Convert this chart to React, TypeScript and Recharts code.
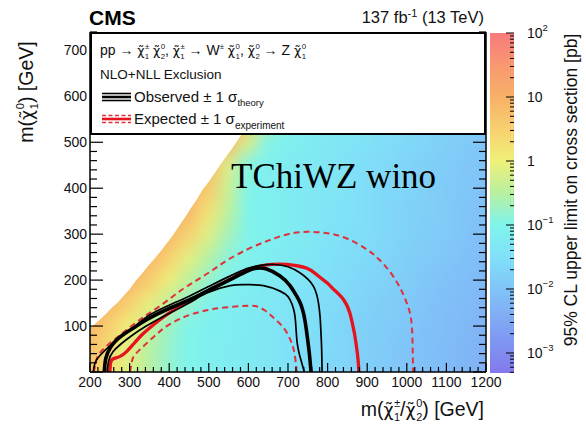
import React from 'react';
import { ComposedChart, XAxis, YAxis, Scatter, Area, Line, ReferenceArea } from 'recharts';

const SANS = '"Liberation Sans", Arial, Helvetica, sans-serif';
const SERIF = '"Liberation Serif", "Times New Roman", serif';
const GREEK = '"DejaVu Sans", sans-serif';

// mass-plane frame
const MARGIN = { top: 32, right: 80, bottom: 35, left: 50 };
const Y_AXIS_W = 40;
const R_AXIS_W = 20;
const X_AXIS_H = 20;
const PLOT_W = 586 - MARGIN.left - MARGIN.right - Y_AXIS_W - R_AXIS_W;
const PLOT_H = 427 - MARGIN.top - MARGIN.bottom - X_AXIS_H;
const X_MIN = 200;
const X_MAX = 1200;
const Y_MIN = 0;
const Y_MAX = 740;
const TM = 4;

const X_TICKS = Array.from({ length: 51 }, (_, i) => X_MIN + i * 20);
const Y_TICKS = Array.from({ length: 38 }, (_, i) => i * 20);

// 95% CL upper limit, log10(sigma / pb), on a 50 GeV grid
const HEAT_X = [200, 250, 300, 350, 400, 450, 500, 550, 600, 650, 700, 750, 800, 850, 900, 950, 1000, 1050, 1100, 1150, 1200];
const HEAT_Y = [0, 50, 100, 150, 200, 250, 300, 350, 400, 450, 500, 550];
const HEAT_LOG: (number | null)[][] = [
  [0.6, 0.25, -0.15, -0.5, -0.8, -1.0, -1.1, -1.2, -1.25, -1.35, -1.45, -1.55, -1.65, -1.7, -1.8, -1.9, -2.0, -2.1, -2.15, -2.25, -2.35],
  [0.75, 0.3, -0.15, -0.5, -0.8, -1.0, -1.1, -1.2, -1.25, -1.35, -1.45, -1.55, -1.6, -1.7, -1.8, -1.9, -2.0, -2.05, -2.15, -2.25, -2.3],
  [0.9, 0.5, 0.0, -0.4, -0.75, -1.0, -1.1, -1.15, -1.25, -1.35, -1.45, -1.5, -1.6, -1.7, -1.8, -1.85, -1.95, -2.05, -2.1, -2.2, -2.3],
  [0.9, 0.9, 0.5, -0.05, -0.45, -0.8, -1.05, -1.15, -1.2, -1.3, -1.4, -1.5, -1.55, -1.65, -1.75, -1.85, -1.9, -2.0, -2.1, -2.15, -2.25],
  [null, 0.9, 0.9, 0.6, 0.0, -0.45, -0.8, -1.05, -1.15, -1.25, -1.3, -1.4, -1.5, -1.6, -1.7, -1.75, -1.85, -1.95, -2.05, -2.1, -2.2],
  [null, null, 0.9, 0.9, 0.5, -0.1, -0.5, -0.9, -1.05, -1.15, -1.25, -1.35, -1.45, -1.55, -1.6, -1.7, -1.8, -1.9, -1.95, -2.05, -2.15],
  [null, null, null, 0.9, 0.9, 0.45, -0.15, -0.65, -1.0, -1.1, -1.2, -1.3, -1.4, -1.5, -1.55, -1.65, -1.75, -1.85, -1.9, -2.0, -2.1],
  [null, null, null, null, 0.9, 0.9, 0.2, -0.45, -1.0, -1.1, -1.2, -1.3, -1.4, -1.45, -1.55, -1.65, -1.75, -1.8, -1.9, -2.0, -2.05],
  [null, null, null, null, null, 0.9, 0.6, -0.3, -1.0, -1.1, -1.2, -1.3, -1.35, -1.45, -1.55, -1.65, -1.7, -1.8, -1.9, -1.95, -2.05],
  [null, null, null, null, null, 0.9, 0.9, -0.15, -1.0, -1.1, -1.2, -1.3, -1.35, -1.45, -1.55, -1.6, -1.7, -1.8, -1.85, -1.95, -2.0],
  [null, null, null, null, null, null, 0.9, 0.9, -0.2, -1.0, -1.1, -1.2, -1.3, -1.4, -1.45, -1.55, -1.65, -1.7, -1.8, -1.9, -1.95],
  [null, null, null, null, null, null, null, 0.9, 0.7, -0.5, -1.05, -1.15, -1.25, -1.35, -1.45, -1.5, -1.6, -1.7, -1.75, -1.85, -1.95],
];

// upper edge of the scanned grid
const EDGE_X = [200, 212, 225, 240, 255, 270, 285, 300, 317, 330, 345, 360, 375, 390, 410, 425, 440, 455, 470, 485, 500, 515, 530, 545, 560, 575, 590, 605];
const EDGE_Y = [96, 104, 114, 126, 140, 151, 166, 180, 200, 213, 229, 244, 259, 276, 298, 318, 337, 357, 376, 398, 414, 433, 452, 470, 488, 507, 527, 545];

// exclusion contours, (m chargino/neutralino2, m LSP) in GeV
const OBSERVED = [[236, 0], [240, 30], [252, 54], [270, 72], [290, 85], [310, 96], [343, 114], [394, 136], [453, 158], [511, 183], [554, 201], [596, 219], [621, 226], [646, 224], [680, 209], [705, 188], [722, 165], [732, 148], [740, 125], [745, 100], [749, 75], [753, 47], [756, 22], [758, 0]];
const OBSERVED_UP = [[208, 0], [213, 20], [225, 36], [250, 57], [284, 80], [315, 100], [343, 120], [394, 143], [453, 166], [511, 191], [554, 209], [596, 225], [630, 232], [665, 234], [700, 229], [730, 216], [750, 202], [764, 187], [772, 170], [777, 150], [781, 120], [783, 90], [785, 50], [786, 0]];
const OBSERVED_DN = [[244, 0], [247, 24], [258, 44], [278, 61], [305, 79], [340, 99], [390, 123], [450, 150], [495, 172], [554, 188], [596, 190], [638, 188], [680, 176], [700, 164], [710, 148], [716, 130], [719, 110], [721, 85], [723, 65], [727, 45], [733, 25], [738, 10], [741, 0]];
const EXPECTED = [[250, 0], [252, 20], [259, 29], [276, 34], [293, 45], [309, 60], [330, 80], [352, 97], [394, 125], [453, 156], [511, 183], [554, 202], [596, 221], [646, 233], [697, 234], [747, 226], [775, 210], [800, 193], [814, 181], [840, 158], [856, 129], [864, 100], [869, 78], [875, 42], [878, 15], [879, 0]];
const EXPECTED_UP = [[210, 0], [214, 20], [222, 38], [240, 55], [265, 73], [290, 90], [320, 110], [350, 128], [390, 152], [430, 178], [470, 200], [510, 222], [550, 245], [600, 268], [650, 286], [700, 300], [750, 305], [800, 302], [850, 290], [900, 266], [930, 245], [960, 215], [985, 180], [1000, 150], [1010, 120], [1014, 80], [1015, 40], [1016, 0]];
const EXPECTED_DN = [[301, 0], [305, 20], [312, 36], [330, 52], [350, 68], [372, 85], [394, 100], [430, 117], [470, 129], [511, 137], [560, 142], [600, 144], [620, 143], [640, 135], [660, 121], [688, 97], [705, 72], [714, 50], [719, 25], [722, 0]];

// colour scale, log10(pb) -> colour
const CB_LOG_MIN = -3.3125;
const CB_LOG_MAX = 2;
const RAMP: [number, string][] = [
  [-3.3125, '#8478ec'],
  [-3.0, '#808cf0'],
  [-2.5, '#80a8f4'],
  [-2.0, '#80c4f8'],
  [-1.5, '#80e0f8'],
  [-1.0, '#80f4ec'],
  [-0.5, '#b8f0a0'],
  [0.0, '#f0f078'],
  [0.5, '#f8d070'],
  [1.0, '#f8b068'],
  [1.5, '#f89870'],
  [2.0, '#f77b7b'],
];
const CB_TICKS: number[] = [];
for (let e = -4; e <= 1; e++) {
  for (let m = 1; m <= 9; m++) {
    const v = m * Math.pow(10, e);
    if (Math.log10(v) >= CB_LOG_MIN && Math.log10(v) <= CB_LOG_MAX + 1e-9) CB_TICKS.push(v);
  }
}
CB_TICKS.push(100);

const RED = '#e5131d';
const DASH_RED = '#e0303a';

const hexToRgb = (h: string) => [1, 3, 5].map((i) => parseInt(h.slice(i, i + 2), 16));

function rampColor(v: number) {
  if (v <= RAMP[0][0]) return RAMP[0][1];
  for (let i = 1; i < RAMP.length; i++) {
    if (v <= RAMP[i][0]) {
      const [v0, c0] = RAMP[i - 1];
      const [v1, c1] = RAMP[i];
      const t = (v - v0) / (v1 - v0);
      const a = hexToRgb(c0);
      const b = hexToRgb(c1);
      return `rgb(${a.map((k, j) => Math.round(k + (b[j] - k) * t)).join(',')})`;
    }
  }
  return RAMP[RAMP.length - 1][1];
}

const heatCells = HEAT_Y.flatMap((y, r) =>
  HEAT_X.flatMap((x, c) => {
    const v = HEAT_LOG[r][c];
    return v == null ? [] : [{ x, y, v }];
  })
);
const edgeData = EDGE_X.map((x, i) => ({ x, y: EDGE_Y[i] }));
const pts = (arr: number[][]) => arr.map(([x, y]) => ({ x, y }));

const CELL_W = (50 * PLOT_W) / (X_MAX - X_MIN) + 1.5;
const CELL_H = (50 * PLOT_H) / (Y_MAX - Y_MIN) + 1.5;

function HeatCell(p: any) {
  return <rect x={p.cx - CELL_W / 2} y={p.cy - CELL_H / 2} width={CELL_W} height={CELL_H} fill={rampColor(p.payload.v)} />;
}

function XTick({ x, y, payload }: any) {
  const v = payload.value as number;
  const major = v % 100 === 0;
  const base = y - TM;
  return (
    <g>
      <line x1={x} x2={x} y1={base} y2={base - (major ? 9 : 5)} stroke="#000" strokeWidth={1.2} />
      {major && (
        <text x={x} y={base + 15} textAnchor="middle" fontSize={14} fontFamily={SANS} fill="#111">
          {v}
        </text>
      )}
    </g>
  );
}

function YTickLeft({ x, y, payload }: any) {
  const v = payload.value as number;
  const major = v % 100 === 0;
  const ax = x + TM;
  return (
    <g>
      <line x1={ax} x2={ax + (major ? 13 : 7)} y1={y} y2={y} stroke="#000" strokeWidth={1.2} />
      {major && v > 0 && (
        <text x={ax - 3} y={y + 5} textAnchor="end" fontSize={14} fontFamily={SANS} fill="#111">
          {v}
        </text>
      )}
    </g>
  );
}

function YTickRight({ x, y, payload }: any) {
  const v = payload.value as number;
  const major = v % 100 === 0;
  const ax = x - TM;
  return <line x1={ax} x2={ax - (major ? 13 : 7)} y1={y} y2={y} stroke="#000" strokeWidth={1.2} />;
}

function CbTick({ x, y, payload }: any) {
  const v = payload.value as number;
  const lg = Math.log10(v);
  const e = Math.round(lg);
  const major = Math.abs(lg - e) < 1e-6;
  const ax = x - TM;
  return (
    <g>
      <line x1={ax} x2={ax - (major ? 8 : 4)} y1={y} y2={y} stroke="#000" strokeWidth={1} />
      {major && (
        <text x={ax + 13} y={y + 5} fontSize={14} fontFamily={SANS} fill="#111">
          {e === 0 ? '1' : '10'}
          {e !== 0 && e !== 1 && (
            <tspan fontSize={9.5} baselineShift={7}>
              {e < 0 ? `\u2212${-e}` : `${e}`}
            </tspan>
          )}
        </text>
      )}
    </g>
  );
}

// chi-tilde with stacked upper / lower index
function Chi({ up, low, size }: { up: string; low: string; size: number }) {
  const s = size * 0.56;
  return (
    <>
      <tspan fontFamily={GREEK} fontSize={size * 0.9}>
        {'\u03c7\u0303'}
      </tspan>
      <tspan fontSize={s} dx={size * 0.03} baselineShift={size * 0.45}>
        {up}
      </tspan>
      <tspan fontSize={s} dx={-s * (up === '±' ? 0.584 : 0.556)} baselineShift={-size * 0.25}>
        {low}
      </tspan>
    </>
  );
}

const lineProps = { dataKey: 'y', dot: false, activeDot: false, isAnimationActive: false, type: 'natural' as const };

export default function App() {
  const L = 14;
  return (
    <div style={{ position: 'absolute', left: 0, top: 0, width: 586, height: 427, background: '#fff', overflow: 'hidden' }}>
      <style>{'.heat-layer{filter:url(#heat-smooth)}'}</style>
      <div style={{ position: 'absolute', left: 0, top: 0 }}>
        <ComposedChart width={586} height={427} margin={MARGIN}>
          <defs>
            <filter id="heat-smooth" x="-10%" y="-10%" width="120%" height="120%" colorInterpolationFilters="sRGB">
              <feGaussianBlur stdDeviation="8 9" />
              <feComponentTransfer>
                <feFuncA type="linear" slope={40} intercept={0} />
              </feComponentTransfer>
            </filter>
          </defs>
          <Scatter className="heat-layer" data={heatCells} dataKey="y" shape={HeatCell} isAnimationActive={false} zIndex={-60} />
          <Area data={edgeData} dataKey="y" type="linear" baseValue="dataMax" fill="#fff" fillOpacity={1} stroke="none" isAnimationActive={false} activeDot={false} zIndex={-50} />
          <Line data={pts(EXPECTED_UP)} stroke={DASH_RED} strokeWidth={2} strokeDasharray="6 4" {...lineProps} />
          <Line data={pts(EXPECTED_DN)} stroke={DASH_RED} strokeWidth={2} strokeDasharray="6 4" {...lineProps} />
          <Line data={pts(EXPECTED)} stroke={RED} strokeWidth={3.3} {...lineProps} />
          <Line data={pts(OBSERVED_UP)} stroke="#000" strokeWidth={1.7} {...lineProps} />
          <Line data={pts(OBSERVED_DN)} stroke="#000" strokeWidth={1.7} {...lineProps} />
          <Line data={pts(OBSERVED)} stroke="#000" strokeWidth={3.6} {...lineProps} />
          <XAxis
            type="number"
            dataKey="x"
            domain={[X_MIN, X_MAX]}
            ticks={X_TICKS}
            interval={0}
            allowDataOverflow
            height={X_AXIS_H}
            tickSize={0}
            tickMargin={TM}
            tickLine={false}
            axisLine={{ stroke: '#000', strokeWidth: 1.5 }}
            tick={(p: any) => <XTick {...p} />}
          />
          <YAxis
            type="number"
            dataKey="y"
            domain={[Y_MIN, Y_MAX]}
            ticks={Y_TICKS}
            interval={0}
            allowDataOverflow
            width={Y_AXIS_W}
            tickSize={0}
            tickMargin={TM}
            tickLine={false}
            axisLine={{ stroke: '#000', strokeWidth: 1.5 }}
            tick={(p: any) => <YTickLeft {...p} />}
          />
          <YAxis
            yAxisId="r"
            orientation="right"
            type="number"
            dataKey="y"
            domain={[Y_MIN, Y_MAX]}
            ticks={Y_TICKS}
            interval={0}
            allowDataOverflow
            width={R_AXIS_W}
            tickSize={0}
            tickMargin={TM}
            tickLine={false}
            axisLine={{ stroke: '#000', strokeWidth: 1.5 }}
            tick={(p: any) => <YTickRight {...p} />}
          />
        </ComposedChart>
      </div>

      <div style={{ position: 'absolute', left: 480, top: 0 }}>
        <ComposedChart width={90} height={427} margin={{ top: 33, right: 16, bottom: 54, left: 10 }}>
          <defs>
            <linearGradient id="cb-grad" x1="0" y1="0" x2="0" y2="1">
              {[...RAMP].reverse().map(([v, c]) => (
                <stop key={v} offset={(CB_LOG_MAX - v) / (CB_LOG_MAX - CB_LOG_MIN)} stopColor={c} />
              ))}
            </linearGradient>
          </defs>
          <XAxis type="number" dataKey="x" domain={[0, 1]} hide allowDataOverflow />
          <ReferenceArea
            x1={0}
            x2={1}
            y1={Math.pow(10, CB_LOG_MIN)}
            y2={Math.pow(10, CB_LOG_MAX)}
            fill="url(#cb-grad)"
            fillOpacity={1}
            stroke="none"
            ifOverflow="visible"
          />
          <YAxis
            orientation="right"
            type="number"
            scale="log"
            domain={[Math.pow(10, CB_LOG_MIN), Math.pow(10, CB_LOG_MAX)]}
            ticks={CB_TICKS}
            interval={0}
            allowDataOverflow
            width={40}
            tickSize={0}
            tickMargin={TM}
            tickLine={false}
            axisLine={false}
            tick={(p: any) => <CbTick {...p} />}
          />
        </ComposedChart>
      </div>

      <svg width={586} height={427} style={{ position: 'absolute', left: 0, top: 0, pointerEvents: 'none' }} fontFamily={SANS}>
        <text x={89} y={25} fontSize={21} fontWeight="bold" fill="#000">
          CMS
        </text>
        <text x={484} y={23} fontSize={16.5} textAnchor="end" fill="#111">
          137 fb<tspan fontSize={11} baselineShift={6}>-1</tspan>
          <tspan> (13 TeV)</tspan>
        </text>

        <rect x={91} y={33} width={394} height={101} fill="#fff" stroke="#000" strokeWidth={2} />
        <text x={100} y={55} fontSize={L} fill="#111">
          <tspan>{'pp \u2192 '}</tspan>
          <Chi up="±" low="1" size={L} />
          <tspan> </tspan>
          <Chi up="0" low="2" size={L} />
          <tspan>{', '}</tspan>
          <Chi up="±" low="1" size={L} />
          <tspan>{' \u2192 W'}</tspan>
          <tspan fontSize={L * 0.56} baselineShift={L * 0.45}>±</tspan>
          <tspan> </tspan>
          <Chi up="0" low="1" size={L} />
          <tspan>{', '}</tspan>
          <Chi up="0" low="2" size={L} />
          <tspan>{' \u2192 Z '}</tspan>
          <Chi up="0" low="1" size={L} />
        </text>
        <text x={100} y={79} fontSize={13.5} fill="#111">
          NLO+NLL Exclusion
        </text>
        <line x1={102} x2={131} y1={93.5} y2={93.5} stroke="#000" strokeWidth={1.6} />
        <line x1={102} x2={131} y1={97} y2={97} stroke="#000" strokeWidth={2.6} />
        <line x1={102} x2={131} y1={100.5} y2={100.5} stroke="#000" strokeWidth={1.6} />
        <text x={134} y={102} fontSize={15} fill="#111">
          {'Observed \u00b1 1 \u03c3'}
          <tspan fontSize={9.5} baselineShift={-4}>theory</tspan>
        </text>
        <line x1={102} x2={131} y1={115.5} y2={115.5} stroke={DASH_RED} strokeWidth={1.6} strokeDasharray="4 2.5" />
        <line x1={102} x2={131} y1={119} y2={119} stroke={RED} strokeWidth={2.6} />
        <line x1={102} x2={131} y1={122.5} y2={122.5} stroke={DASH_RED} strokeWidth={1.6} strokeDasharray="4 2.5" />
        <text x={134} y={124} fontSize={15} fill="#111">
          {'Expected \u00b1 1 \u03c3'}
          <tspan fontSize={10} baselineShift={-4.5}>experiment</tspan>
        </text>

        <text x={231} y={188} fontSize={35} fontFamily={SERIF} fill="#000">
          TChiWZ wino
        </text>

        <text transform="translate(33 92) rotate(-90)" fontSize={19.5} textAnchor="middle" fill="#111">
          <tspan>m(</tspan>
          <Chi up="0" low="1" size={19.5} />
          <tspan>) [GeV]</tspan>
        </text>
        <text x={484} y={416} fontSize={19.5} textAnchor="end" fill="#111">
          <tspan>m(</tspan>
          <Chi up="±" low="1" size={19.5} />
          <tspan>/</tspan>
          <Chi up="0" low="2" size={19.5} />
          <tspan>) [GeV]</tspan>
        </text>
        <text transform="translate(577 190) rotate(-90)" fontSize={17.5} textAnchor="middle" fill="#111">
          95% CL upper limit on cross section [pb]
        </text>
      </svg>
    </div>
  );
}
